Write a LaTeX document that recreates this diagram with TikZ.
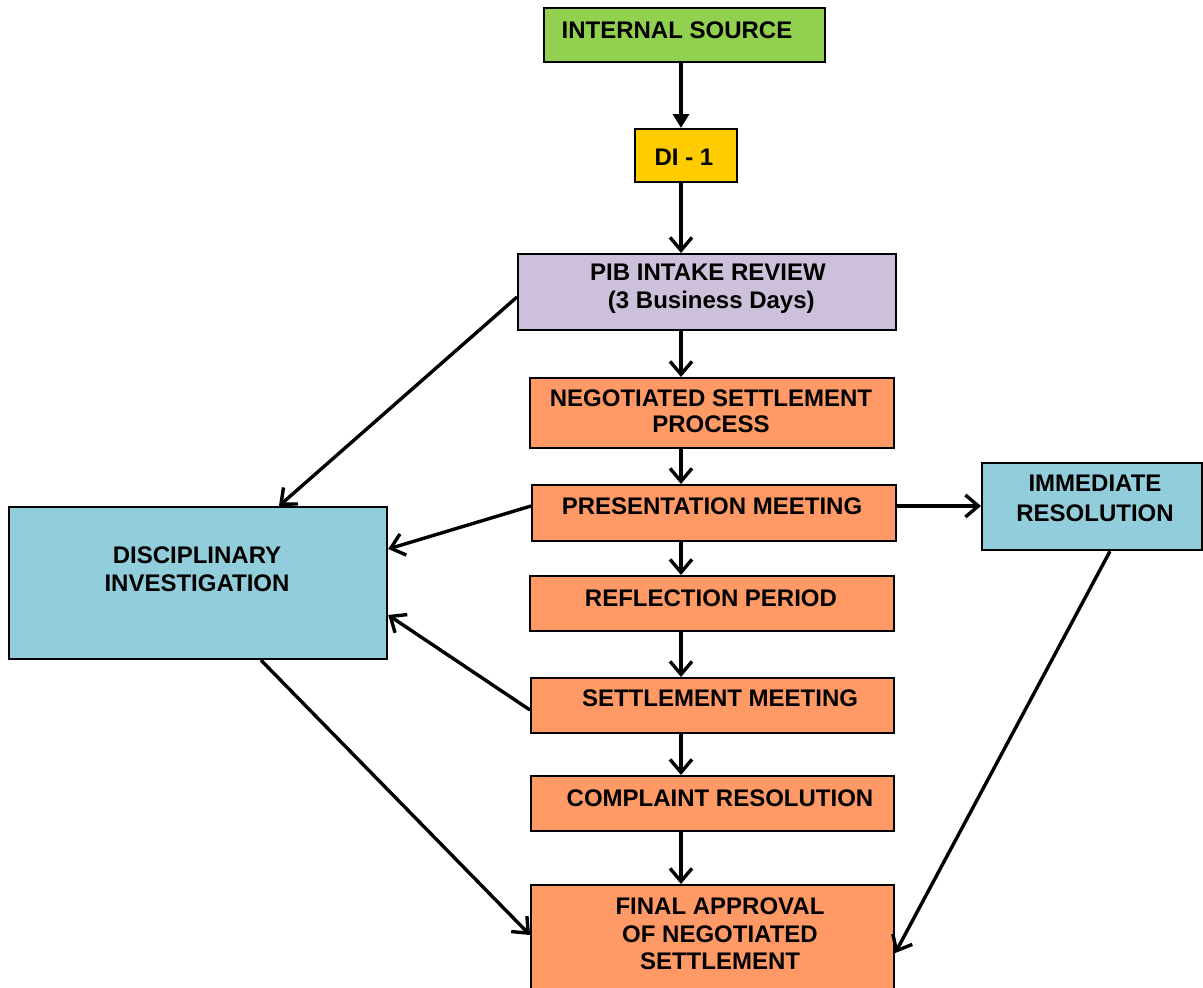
\documentclass[tikz,border=0pt]{standalone}
\usepackage{fontspec}
\setmainfont{Liberation Sans}
\usetikzlibrary{arrows.meta}
\definecolor{cgreen}{HTML}{92D050}
\definecolor{cyellow}{HTML}{FFCC00}
\definecolor{clav}{HTML}{CCC0DA}
\definecolor{corange}{HTML}{FF9966}
\definecolor{cblue}{HTML}{92CDDC}
\tikzset{
  box/.style={draw=black, line width=2.2pt, inner sep=0pt, anchor=north west},
  txt/.style={inner sep=0pt, align=center, font=\fontsize{24}{28}\selectfont\bfseries},
  conn/.style={line width=3.4pt, -{Straight Barb[length=13pt,width=22pt,line width=3.4pt]}},
  connfill/.style={line width=3.4pt, -{Triangle[length=14pt,width=16pt]}}
}
\begin{document}
\begin{tikzpicture}[x=1pt,y=-1pt]
\clip (0,0) rectangle (1203,988);
\fill[white] (0,0) rectangle (1203,988);
% boxes
\node[box, fill=cgreen, minimum width=281pt, minimum height=54pt] (src) at (543,7) {};
\node[box, fill=cyellow, minimum width=102pt, minimum height=53pt] (di) at (634,128) {};
\node[box, fill=clav, minimum width=378pt, minimum height=76pt] (pib) at (517,253) {};
\node[box, fill=corange, minimum width=364pt, minimum height=70pt] (neg) at (529,377) {};
\node[box, fill=corange, minimum width=364pt, minimum height=56pt] (pres) at (531,484) {};
\node[box, fill=corange, minimum width=364pt, minimum height=55pt] (refl) at (529,575) {};
\node[box, fill=corange, minimum width=363pt, minimum height=55pt] (setm) at (530,677) {};
\node[box, fill=corange, minimum width=363pt, minimum height=55pt] (comp) at (530,775) {};
\node[box, fill=corange, minimum width=363pt, minimum height=120pt] (fin) at (530,884) {};
\node[box, fill=cblue, minimum width=378pt, minimum height=152pt] (disc) at (8,506) {};
\node[box, fill=cblue, minimum width=220pt, minimum height=87pt] (imm) at (981,462) {};
% texts
\node[txt] (tsrc) at (677,30) {INTERNAL SOURCE};
\node[txt] (tdi) at (684,157) {DI - 1};
\node[txt] (tpib) at (708,289) {PIB INTAKE REVIEW\\\ (3 Business Days)};
\node[txt, font=\fontsize{24}{26}\selectfont\bfseries] (tneg) at (711,411) {NEGOTIATED SETTLEMENT\\PROCESS};
\node[txt] (tpres) at (712,506) {PRESENTATION MEETING};
\node[txt] (trefl) at (711,598) {REFLECTION PERIOD};
\node[txt] (tsetm) at (720,698) {SETTLEMENT MEETING};
\node[txt] (tcomp) at (720,798) {COMPLAINT RESOLUTION};
\node[txt, font=\fontsize{24}{27.5}\selectfont\bfseries] (tfin) at (720,934) {FINAL APPROVAL\\OF NEGOTIATED\\SETTLEMENT};
\node[txt] (tdisc) at (197,569) {DISCIPLINARY\\INVESTIGATION};
\node[txt, font=\fontsize{24}{30}\selectfont\bfseries] (timm) at (1095,498) {IMMEDIATE\\RESOLUTION};
% connectors
\draw[connfill] (src.south -| 681,0) -- (di.north -| 681,0);
\draw[conn] (di.south -| 681,0) -- (pib.north -| 681,0);
\draw[conn] (pib.south -| 681,0) -- (neg.north -| 681,0);
\draw[conn] (neg.south -| 681,0) -- (pres.north -| 681,0);
\draw[conn] (pres.south -| 681,0) -- (refl.north -| 681,0);
\draw[conn] (refl.south -| 681,0) -- (setm.north -| 681,0);
\draw[conn] (setm.south -| 681,0) -- (comp.north -| 681,0);
\draw[conn] (comp.south -| 681,0) -- (fin.north -| 681,0);
\draw[conn] (pib.west |- 0,297) -- (disc.north -| 279,0);
\draw[conn] (pres.west |- 0,506) -- (disc.east |- 0,549);
\draw[conn] (setm.west |- 0,710) -- (disc.east |- 0,615);
\draw[conn] (disc.south -| 261,0) -- (fin.west |- 0,935);
\draw[conn] (pres.east |- 0,506) -- (imm.west |- 0,506);
\draw[conn] (imm.south -| 1110,0) -- (fin.east |- 0,953);
\end{tikzpicture}
\end{document}
